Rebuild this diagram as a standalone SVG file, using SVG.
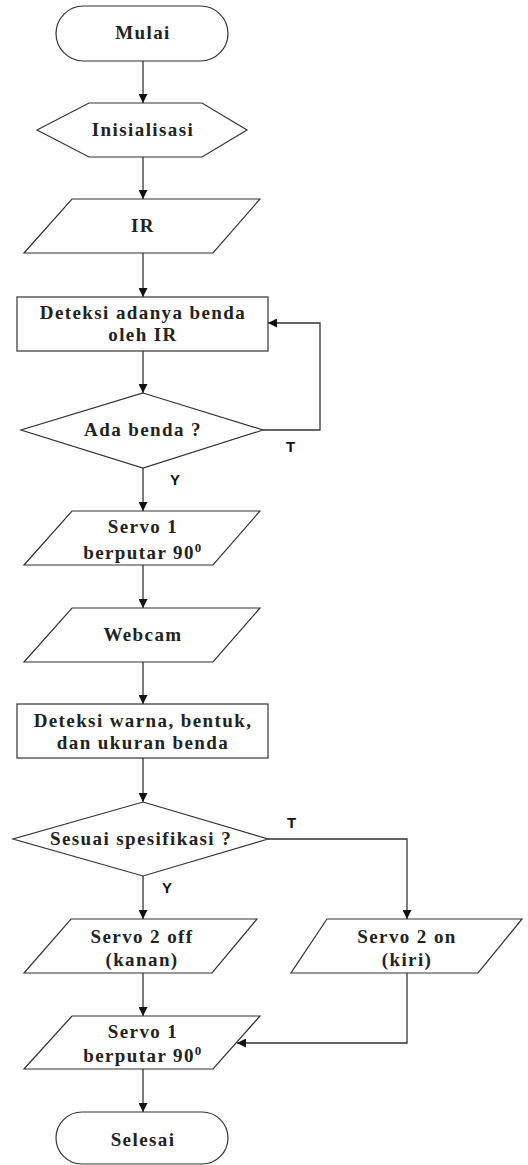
<svg xmlns="http://www.w3.org/2000/svg" width="528" height="1165" viewBox="0 0 528 1165">
<style>
.s{fill:#fff;stroke:#333;stroke-width:1.2}
.t{font-family:"Liberation Serif","Times New Roman",serif;font-weight:bold;font-size:19px;letter-spacing:1.4px;fill:#222;text-anchor:middle}
.l{font-family:"Liberation Sans",Arial,sans-serif;font-weight:bold;font-size:15px;fill:#111}
.c{fill:none;stroke:#333;stroke-width:1.3}
</style>
<defs>
<marker id="a" viewBox="0 0 10 10" refX="10" refY="5" markerWidth="9" markerHeight="9" markerUnits="userSpaceOnUse" orient="auto">
<path d="M0,0 L10,5 L0,10 Z" fill="#111"/>
</marker>
</defs>
<g id="connectors">
<path class="c" d="M143,61 V103" marker-end="url(#a)"/>
<path class="c" d="M143,157 V199" marker-end="url(#a)"/>
<path class="c" d="M143,253 V297" marker-end="url(#a)"/>
<path class="c" d="M143,351 V393" marker-end="url(#a)"/>
<path class="c" d="M263,430 H320 V323 H268" marker-end="url(#a)"/>
<path class="c" d="M143,468 V511" marker-end="url(#a)"/>
<path class="c" d="M143,565 V608" marker-end="url(#a)"/>
<path class="c" d="M143,662 V704" marker-end="url(#a)"/>
<path class="c" d="M143,758 V802" marker-end="url(#a)"/>
<path class="c" d="M268,839 H407 V919" marker-end="url(#a)"/>
<path class="c" d="M143,876 V919" marker-end="url(#a)"/>
<path class="c" d="M143,973 V1016" marker-end="url(#a)"/>
<path class="c" d="M407,973 V1043 H237" marker-end="url(#a)"/>
<path class="c" d="M143,1069 V1112" marker-end="url(#a)"/>
<text class="l" x="286" y="452">T</text>
<text class="l" x="170" y="485">Y</text>
<text class="l" x="287" y="828">T</text>
<text class="l" x="162" y="893">Y</text>
</g>
<g id="mulai">
<rect class="s" x="56" y="6" width="172" height="55" rx="27.5"/>
<text class="t" x="143" y="39">Mulai</text>
</g>
<g id="inisialisasi">
<polygon class="s" points="37,130 89,103 202,103 247,130 202,157 89,157"/>
<text class="t" x="143" y="136">Inisialisasi</text>
</g>
<g id="ir">
<polygon class="s" points="72,199 260,199 213,253 24,253"/>
<text class="t" x="143" y="232">IR</text>
</g>
<g id="deteksi-ir">
<rect class="s" x="17" y="297" width="251" height="54"/>
<text class="t" x="143" y="319">Deteksi adanya benda</text>
<text class="t" x="143" y="341">oleh IR</text>
</g>
<g id="ada-benda">
<polygon class="s" points="143,393 263,430 143,468 21,430"/>
<text class="t" x="143" y="436">Ada benda ?</text>
</g>
<g id="servo1a">
<polygon class="s" points="72,511 260,511 213,565 24,565"/>
<text class="t" x="143" y="533">Servo 1</text>
<text class="t" x="143" y="559">berputar 90<tspan dy="-7" font-size="13">0</tspan></text>
</g>
<g id="webcam">
<polygon class="s" points="72,608 260,608 213,662 24,662"/>
<text class="t" x="143" y="641">Webcam</text>
</g>
<g id="deteksi-warna">
<rect class="s" x="17" y="704" width="251" height="54"/>
<text class="t" x="143" y="727">Deteksi warna, bentuk,</text>
<text class="t" x="143" y="749">dan ukuran benda</text>
</g>
<g id="sesuai">
<polygon class="s" points="143,802 268,839 143,876 13,839"/>
<text class="t" x="141" y="845">Sesuai spesifikasi ?</text>
</g>
<g id="servo2off">
<polygon class="s" points="71,919 257,919 212,973 24,973"/>
<text class="t" x="142" y="943">Servo 2 off</text>
<text class="t" x="142" y="966">(kanan)</text>
</g>
<g id="servo2on">
<polygon class="s" points="327,919 522,919 478,973 291,973"/>
<text class="t" x="407" y="943">Servo 2 on</text>
<text class="t" x="407" y="966">(kiri)</text>
</g>
<g id="servo1b">
<polygon class="s" points="72,1016 260,1016 213,1069 24,1069"/>
<text class="t" x="143" y="1038">Servo 1</text>
<text class="t" x="143" y="1062">berputar 90<tspan dy="-7" font-size="13">0</tspan></text>
</g>
<g id="selesai">
<rect class="s" x="56" y="1112" width="172" height="52" rx="26"/>
<text class="t" x="143" y="1146">Selesai</text>
</g>
</svg>
